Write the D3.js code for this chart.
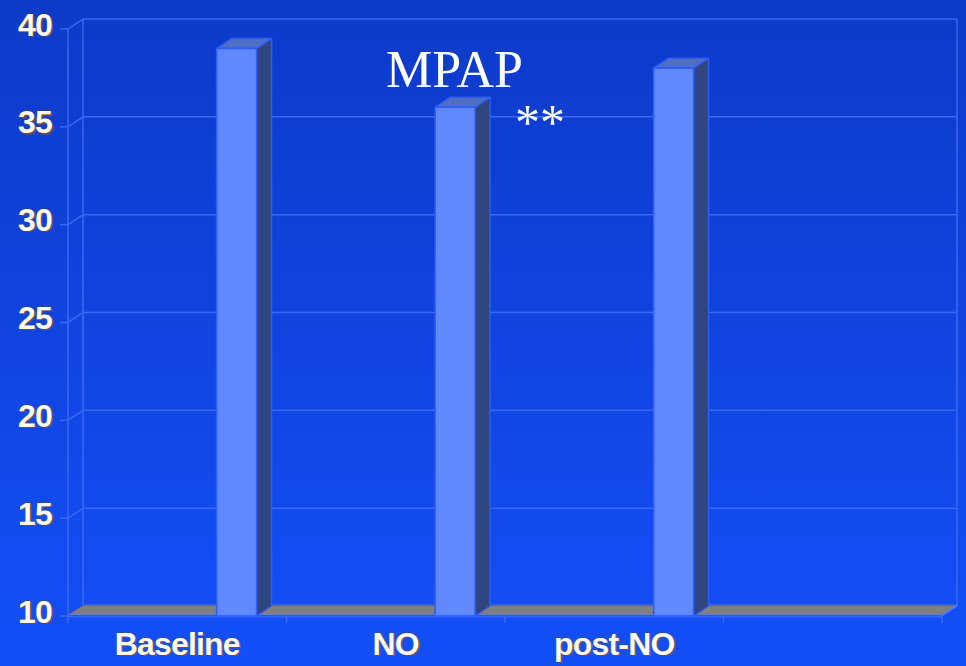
<!DOCTYPE html>
<html>
<head>
<meta charset="utf-8">
<script src="https://cdn.jsdelivr.net/npm/d3@7/dist/d3.min.js"></script>
<style>
  html, body { margin: 0; padding: 0; background: #1045e0; }
  svg { display: block; }
</style>
</head>
<body>
<svg id="chart" width="966" height="666"></svg>
<script>
// Mean pulmonary artery pressure per phase
const categories = ["Baseline", "NO", "post-NO", ""];
const values = [39, 36, 38, null];
const yTicks = [10, 15, 20, 25, 30, 35, 40];
const title = "MPAP";
const significance = "**";

(function draw() {
  const W = 966, H = 666;
  const svg = d3.select("#chart");

  // 3-D depth offset of the plot box
  const DX = 15, DY = -10;
  const plotLeft = 68, plotRight = 942, plotTop = 29, plotBottom = 616;

  const x = d3.scaleBand().domain(categories).range([plotLeft, plotRight]);
  const y = d3.scaleLinear().domain([10, 40]).range([plotBottom, plotTop]);

  // background gradient
  const defs = svg.append("defs");
  const grad = defs.append("linearGradient").attr("id", "bg")
    .attr("x1", 0).attr("y1", 0).attr("x2", 0).attr("y2", 1);
  grad.append("stop").attr("offset", "0%").attr("stop-color", "#0d3ac8");
  grad.append("stop").attr("offset", "100%").attr("stop-color", "#134ff8");
  svg.append("rect").attr("width", W).attr("height", H).attr("fill", "url(#bg)");

  const gridColor = "#3a69f2";

  // back wall gridlines
  const back = svg.append("g");
  back.selectAll("line.grid").data(yTicks).join("line")
    .attr("x1", plotLeft + DX).attr("x2", plotRight + DX)
    .attr("y1", d => y(d) + DY).attr("y2", d => y(d) + DY)
    .attr("stroke", gridColor).attr("stroke-width", 1.5);
  // side wall diagonals
  back.selectAll("line.diag").data(yTicks).join("line")
    .attr("x1", plotLeft).attr("x2", plotLeft + DX)
    .attr("y1", d => y(d)).attr("y2", d => y(d) + DY)
    .attr("stroke", gridColor).attr("stroke-width", 1.5);
  // wall edges
  back.append("line").attr("x1", plotLeft + DX).attr("x2", plotLeft + DX)
    .attr("y1", y(40) + DY).attr("y2", y(10) + DY)
    .attr("stroke", gridColor).attr("stroke-width", 1.5);
  back.append("line").attr("x1", plotRight + DX).attr("x2", plotRight + DX)
    .attr("y1", y(40) + DY).attr("y2", y(10) + DY)
    .attr("stroke", gridColor).attr("stroke-width", 1.5);

  // floor
  const y0 = y(10);
  svg.append("path")
    .attr("d", `M${plotLeft},${y0 - 1}L${plotLeft + DX},${y0 + DY}L${plotRight + DX},${y0 + DY}L${plotRight},${y0 - 1}Z`)
    .attr("fill", "#808080").attr("stroke", "none");
  svg.append("line").attr("x1", plotLeft + DX).attr("x2", plotRight + DX)
    .attr("y1", y0 + DY - 1).attr("y2", y0 + DY - 1)
    .attr("stroke", gridColor).attr("stroke-width", 1.5);
  svg.append("line").attr("x1", plotRight).attr("x2", plotRight + DX)
    .attr("y1", y0).attr("y2", y0 + DY)
    .attr("stroke", "#4a78ff").attr("stroke-width", 1.5);

  // bars
  const barOffset = 0.68, barWidth = 0.183;
  const bars = categories.map((c, i) => ({ c, v: values[i] })).filter(d => d.v != null);
  const edge = "#2a5cff";
  const bg = svg.append("g").selectAll("g").data(bars).join("g");
  bg.each(function(d) {
    const g = d3.select(this);
    const x0 = x(d.c) + x.bandwidth() * barOffset;
    const x1 = x0 + x.bandwidth() * barWidth;
    const yt = y(d.v);
    // side face
    g.append("path")
      .attr("d", `M${x1},${yt}L${x1 + DX},${yt + DY}L${x1 + DX},${y0 + DY}L${x1},${y0}Z`)
      .attr("fill", "#30467c").attr("stroke", edge).attr("stroke-width", 1.5)
      .attr("stroke-linejoin", "round");
    // top face
    g.append("path")
      .attr("d", `M${x0},${yt}L${x0 + DX},${yt + DY}L${x1 + DX},${yt + DY}L${x1},${yt}Z`)
      .attr("fill", "#4f6fc4").attr("stroke", edge).attr("stroke-width", 1.5)
      .attr("stroke-linejoin", "round");
    // front face
    g.append("rect")
      .attr("x", x0).attr("y", yt).attr("width", x1 - x0).attr("height", y0 - yt)
      .attr("fill", "#6088ff").attr("stroke", edge).attr("stroke-width", 1.5);
  });

  // front axes
  const axisColor = "#3466ff";
  svg.append("line").attr("x1", plotLeft).attr("x2", plotLeft)
    .attr("y1", plotTop).attr("y2", plotBottom)
    .attr("stroke", gridColor).attr("stroke-width", 1.5);
  svg.append("line").attr("x1", plotLeft).attr("x2", plotRight)
    .attr("y1", plotBottom + 0.5).attr("y2", plotBottom + 0.5)
    .attr("stroke", axisColor).attr("stroke-width", 2);
  svg.append("g").selectAll("line").data(yTicks).join("line")
    .attr("x1", plotLeft - 8).attr("x2", plotLeft)
    .attr("y1", d => y(d)).attr("y2", d => y(d))
    .attr("stroke", gridColor).attr("stroke-width", 1.5);
  const bounds = categories.map(c => x(c)).concat([plotRight]);
  svg.append("g").selectAll("line").data(bounds).join("line")
    .attr("x1", d => d).attr("x2", d => d)
    .attr("y1", plotBottom).attr("y2", plotBottom + 7)
    .attr("stroke", gridColor).attr("stroke-width", 1.5);

  // labels with a dark drop shadow
  function labelStyle(sel, fill) {
    sel.attr("font-family", "'Liberation Sans', Arial, sans-serif")
       .attr("font-weight", "bold").attr("font-size", 32)
       .attr("letter-spacing", -0.8).attr("fill", fill);
  }
  const yl = svg.append("g");
  [["#7b4a1a", 1.2], ["#ffffff", 0]].forEach(([c, o]) => {
    yl.append("g").selectAll("text").data(yTicks).join("text")
      .attr("x", 52 + o).attr("y", d => y(d) + 6.5 + o)
      .attr("text-anchor", "end")
      .text(d => d)
      .call(labelStyle, c);
  });
  const xl = svg.append("g");
  [["#7b4a1a", 1.2], ["#ffffff", 0]].forEach(([c, o]) => {
    xl.append("g").selectAll("text").data(categories).join("text")
      .attr("x", d => x(d) + x.bandwidth() / 2 + o).attr("y", 655 + o)
      .attr("text-anchor", "middle")
      .text(d => d)
      .call(labelStyle, c);
  });

  // title and significance marker
  svg.append("text").attr("x", 386).attr("y", 87)
    .attr("font-family", "'Liberation Serif', 'Times New Roman', serif")
    .attr("font-size", 52).attr("fill", "#ffffff").text(title);
  svg.append("text").attr("x", 515).attr("y", 139)
    .attr("font-family", "'Liberation Serif', 'Times New Roman', serif")
    .attr("font-size", 50).attr("fill", "#ffffff").text(significance);
})();
</script>
</body>
</html>
